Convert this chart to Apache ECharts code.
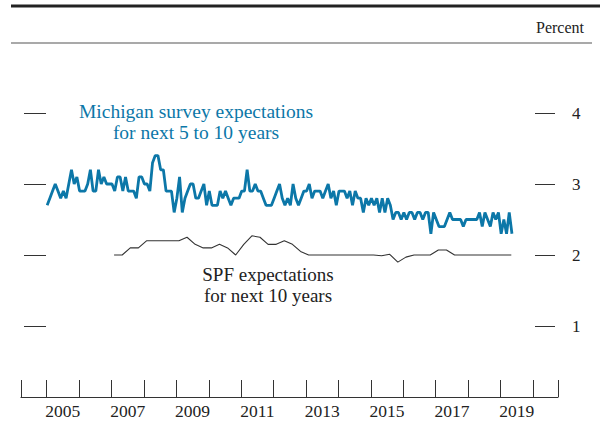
<!DOCTYPE html>
<html>
<head>
<meta charset="utf-8">
<script src="https://cdn.jsdelivr.net/npm/echarts@6/dist/echarts.min.js"></script>
<style>
  html, body { margin: 0; padding: 0; background: #fff; }
  #chart { width: 600px; height: 423px; }
</style>
</head>
<body>
<div id="chart"></div>
<script>
// Michigan survey, 5-10 yr expectations, monthly from Jan 2005
const michStart = 2005;
const michValues = [
  2.7, 2.8, 2.9, 3.0, 2.9, 2.8, 2.9, 2.8, 3.0, 3.2,
  3.0, 3.1, 2.9, 2.9, 2.9, 3.0, 3.2, 2.9, 2.9, 3.2,
  3.0, 3.1, 3.0, 3.0, 3.0, 2.9, 3.1, 3.1, 2.9, 3.1,
  2.9, 2.9, 2.9, 2.8, 3.1, 3.1, 3.0, 3.0, 2.9, 3.3,
  3.4, 3.4, 3.2, 3.2, 2.9, 2.9, 2.9, 2.6, 2.8, 3.1,
  2.6, 2.8, 2.9, 3.0, 3.0, 2.8, 2.8, 2.9, 3.0, 2.7,
  2.9, 2.7, 2.7, 2.7, 2.9, 2.8, 2.9, 2.8, 2.7, 2.8,
  2.8, 2.8, 2.9, 2.9, 3.2, 2.9, 2.9, 3.0, 2.9, 2.9,
  2.8, 2.7, 2.7, 2.7, 2.8, 2.9, 3.0, 2.8, 2.7, 2.8,
  2.7, 3.0, 2.8, 2.7, 2.8, 2.9, 2.9, 3.0, 2.8, 2.9,
  2.9, 2.9, 2.8, 2.9, 3.0, 2.8, 2.9, 2.7, 2.9, 2.9,
  2.9, 2.8, 2.9, 2.7, 2.9, 2.8, 2.8, 2.6, 2.8, 2.7,
  2.8, 2.7, 2.8, 2.6, 2.8, 2.6, 2.8, 2.7, 2.5, 2.6,
  2.6, 2.5, 2.6, 2.5, 2.6, 2.6, 2.5, 2.6, 2.6, 2.5,
  2.6, 2.6, 2.3, 2.6, 2.5, 2.4, 2.4, 2.4, 2.5, 2.6,
  2.5, 2.5, 2.5, 2.5, 2.4, 2.5, 2.5, 2.5, 2.5, 2.5,
  2.6, 2.4, 2.6, 2.5, 2.4, 2.6, 2.5, 2.6, 2.3, 2.5,
  2.3, 2.6, 2.3
];

// SPF 10-yr expectations, quarterly from 2007 Q1
const spfStart = 2007;
const spfValues = [
  2.0, 2.0, 2.1, 2.1,
  2.2, 2.2, 2.2, 2.2,
  2.2, 2.25, 2.15, 2.1,
  2.1, 2.15, 2.1, 2.0,
  2.15, 2.27, 2.25, 2.15,
  2.15, 2.2, 2.15, 2.05,
  2.0, 2.0, 2.0, 2.0,
  2.0, 2.0, 2.0, 2.0,
  2.0, 1.99, 2.01, 1.9,
  1.97, 2.0, 2.0, 2.0,
  2.07, 2.07, 2.0, 2.0,
  2.0, 2.0, 2.0, 2.0,
  2.0, 2.0
];

const yearTicks = [2005, 2006, 2007, 2008, 2009, 2010, 2011, 2012, 2013, 2014, 2015, 2016, 2017, 2018, 2019, 2020];
const yearLabels = [2005, 2007, 2009, 2011, 2013, 2015, 2017, 2019];
const pctTicks = [1, 2, 3, 4];

const xMin = 2004.21, xMax = 2020.77;
const serif = "'Liberation Serif', 'DejaVu Serif', serif";
const blue = '#0c77a8';

const michData = michValues.map((v, i) => [michStart + (i + 0.2) / 12, v]);
const spfData = spfValues.map((v, i) => [spfStart + i / 4 + 0.08, v]);

const chart = echarts.init(document.getElementById('chart'), null, {renderer: 'svg'});

chart.setOption({
  animation: false,
  grid: {left: 21, right: 42, top: 42, bottom: 26},
  xAxis: {
    type: 'value', min: xMin, max: xMax,
    splitLine: {show: false},
    axisLine: {lineStyle: {color: '#333', width: 1.2}},
    axisTick: {
      inside: true, length: 17, lineStyle: {color: '#333', width: 1},
      customValues: [xMin].concat(yearTicks, [xMax])
    },
    axisLabel: {
      customValues: yearLabels.map(y => y + 0.5),
      formatter: v => String(Math.floor(v)),
      fontFamily: serif, fontSize: 17.5, color: '#222', margin: 5
    }
  },
  yAxis: [{
    type: 'value', min: 0, max: 5, position: 'left', offset: -3,
    splitLine: {show: false}, axisLine: {show: false},
    axisTick: {inside: true, length: 22, customValues: pctTicks, lineStyle: {color: '#333', width: 1}},
    axisLabel: {show: false}
  }, {
    type: 'value', min: 0, max: 5, position: 'right', offset: -3,
    splitLine: {show: false}, axisLine: {show: false},
    axisTick: {inside: true, length: 20, customValues: pctTicks, lineStyle: {color: '#333', width: 1}},
    axisLabel: {customValues: pctTicks, fontFamily: serif, fontSize: 17, color: '#222', margin: 17}
  }],
  series: [{
    name: 'Michigan', type: 'line', data: michData, showSymbol: false,
    lineStyle: {color: blue, width: 2.8}, z: 3
  }, {
    name: 'SPF', type: 'line', data: spfData, showSymbol: false,
    lineStyle: {color: '#333', width: 1.1}, z: 2
  }],
  graphic: [
    {type: 'line', shape: {x1: 11, y1: 6, x2: 600, y2: 6}, style: {stroke: '#222', lineWidth: 3}},
    {type: 'line', shape: {x1: 11, y1: 43, x2: 592, y2: 43}, style: {stroke: '#555', lineWidth: 1.2}},
    {type: 'text', style: {
      x: 584, y: 27, text: 'Percent', font: '16px ' + serif, fill: '#222',
      align: 'right', verticalAlign: 'middle'
    }},
    {type: 'text', style: {
      x: 196, y: 101, text: 'Michigan survey expectations\nfor next 5 to 10 years',
      font: '19.5px ' + serif, fill: blue, align: 'center', verticalAlign: 'top', lineHeight: 21
    }},
    {type: 'text', style: {
      x: 268, y: 264, text: 'SPF expectations\nfor next 10 years',
      font: '19px ' + serif, fill: '#222', align: 'center', verticalAlign: 'top', lineHeight: 21
    }}
  ]
});
</script>
</body>
</html>
